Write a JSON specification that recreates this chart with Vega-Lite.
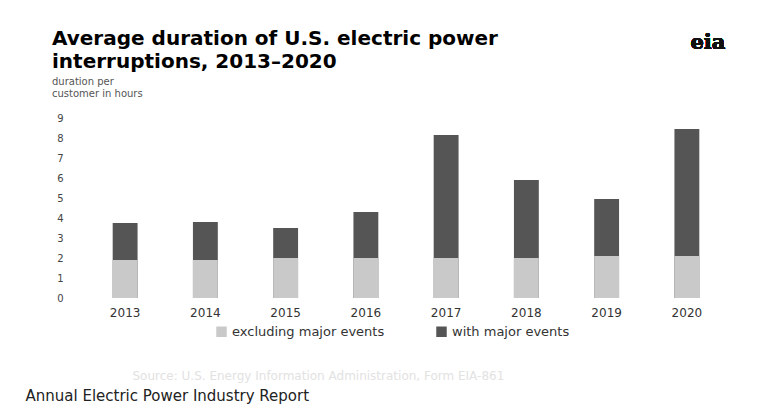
{
  "$schema": "https://vega.github.io/schema/vega-lite/v6.json",
  "width": 642,
  "height": 180,
  "autosize": {"type": "none"},
  "padding": {"left": 85, "top": 118, "right": 39, "bottom": 119},
  "background": "white",
  "config": {"font": "DejaVu Sans", "view": {"stroke": null}},
  "title": {
    "text": ["Average duration of U.S. electric power", "interruptions, 2013–2020"],
    "subtitle": ["duration per", "customer in hours"],
    "anchor": "start",
    "frame": "group",
    "dx": -33,
    "dy": 87,
    "offset": 20,
    "fontSize": 20,
    "fontWeight": "bold",
    "lineHeight": 23,
    "color": "#000000",
    "subtitleFontSize": 10,
    "subtitleLineHeight": 12,
    "subtitleColor": "#555555",
    "subtitlePadding": 5
  },
  "data": {
    "values": [
      {"year": "2013", "series": "with major events", "hours": 3.75},
      {"year": "2014", "series": "with major events", "hours": 3.8},
      {"year": "2015", "series": "with major events", "hours": 3.5},
      {"year": "2016", "series": "with major events", "hours": 4.3},
      {"year": "2017", "series": "with major events", "hours": 8.15},
      {"year": "2018", "series": "with major events", "hours": 5.9},
      {"year": "2019", "series": "with major events", "hours": 4.95},
      {"year": "2020", "series": "with major events", "hours": 8.45},
      {"year": "2013", "series": "excluding major events", "hours": 1.9},
      {"year": "2014", "series": "excluding major events", "hours": 1.9},
      {"year": "2015", "series": "excluding major events", "hours": 2.0},
      {"year": "2016", "series": "excluding major events", "hours": 2.0},
      {"year": "2017", "series": "excluding major events", "hours": 2.0},
      {"year": "2018", "series": "excluding major events", "hours": 2.0},
      {"year": "2019", "series": "excluding major events", "hours": 2.1},
      {"year": "2020", "series": "excluding major events", "hours": 2.1}
    ]
  },
  "layer": [
    {
      "mark": {"type": "bar"},
      "encoding": {
        "x": {
          "field": "year",
          "type": "ordinal",
          "scale": {"paddingInner": 0.69, "paddingOuter": 0.345},
          "axis": {
            "labelAngle": 0,
            "labelFontSize": 12,
            "labelColor": "#333333",
            "labelPadding": 9,
            "ticks": false,
            "domain": false,
            "title": "Annual Electric Power Industry Report",
            "titleX": -60,
            "titleY": 97,
            "titleAlign": "left",
            "titleBaseline": "middle",
            "titleFontSize": 15,
            "titleFontWeight": "normal",
            "titleColor": "#222222"
          }
        },
        "y": {
          "field": "hours",
          "type": "quantitative",
          "stack": null,
          "scale": {"domain": [0, 9], "nice": false},
          "axis": {
            "tickCount": 10,
            "values": [0, 1, 2, 3, 4, 5, 6, 7, 8, 9],
            "labelOverlap": false,
            "labelSeparation": 0,
            "labelBound": false,
            "labelFontSize": 10,
            "labelColor": "#444444",
            "labelPadding": 22,
            "ticks": false,
            "domain": false,
            "grid": false,
            "title": "Source: U.S. Energy Information Administration, Form EIA-861",
            "titleAngle": 0,
            "titleX": 47,
            "titleY": 257,
            "titleAlign": "left",
            "titleBaseline": "middle",
            "titleFontSize": 12,
            "titleFontWeight": "normal",
            "titleColor": "#e2e2e2"
          }
        },
        "color": {
          "field": "series",
          "type": "nominal",
          "scale": {
            "domain": ["excluding major events", "with major events"],
            "range": ["#c9c9c9", "#555555"]
          },
          "legend": {
            "orient": "none",
            "legendX": 130,
            "legendY": 207,
            "direction": "horizontal",
            "title": null,
            "labelFontSize": 13,
            "labelColor": "#333333",
            "symbolType": "square",
            "symbolSize": 110,
            "symbolStrokeWidth": 0,
            "columnPadding": 50
          }
        }
      }
    },
    {
      "mark": {"type": "text", "fontSize": 21, "fontWeight": "bold", "font": "DejaVu Serif", "color": "#111111", "dx": 21, "baseline": "middle"},
      "encoding": {
        "x": {"datum": "2020"},
        "y": {"datum": 12.75},
        "text": {"value": "eia"}
      }
    }
  ]
}
